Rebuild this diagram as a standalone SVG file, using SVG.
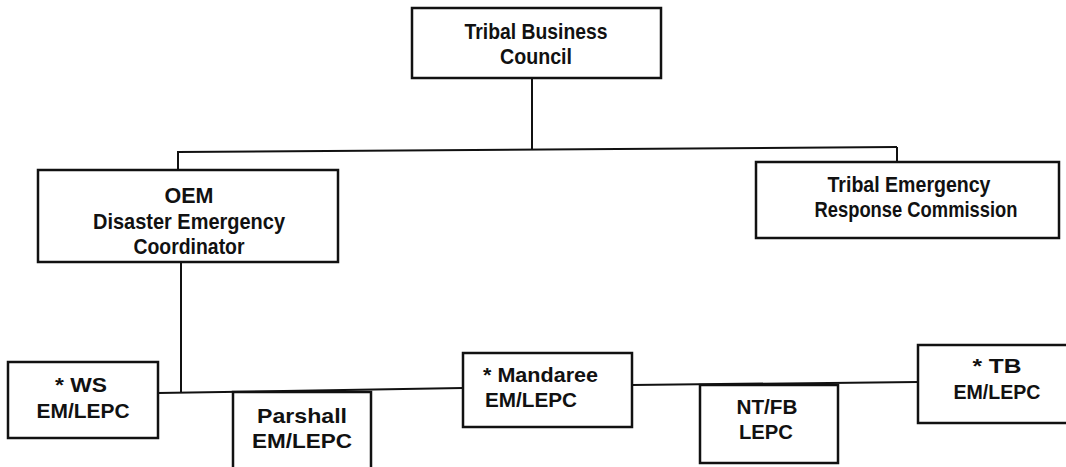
<svg xmlns="http://www.w3.org/2000/svg" width="1066" height="467" viewBox="0 0 1066 467">
<style>
.box{fill:#fff;stroke:#111;stroke-width:2.5}
.ln{fill:none;stroke:#111;stroke-width:2}
.t{font-family:"Liberation Sans",Arial,sans-serif;font-size:22px;font-weight:bold;fill:#111;text-anchor:middle}
.n{font-family:"Liberation Sans",Arial,sans-serif;font-size:21px;font-weight:bold;fill:#111;text-anchor:middle}
.l{text-anchor:start}
</style>
<rect width="1066" height="467" fill="#fff"/>
<g id="connectors">
<line class="ln" x1="532" y1="78" x2="532" y2="150"/>
<line class="ln" x1="178" y1="152" x2="897" y2="147"/>
<line class="ln" x1="178" y1="151" x2="178" y2="170"/>
<line class="ln" x1="897" y1="147" x2="897" y2="162"/>
<line class="ln" x1="181" y1="262" x2="181" y2="393"/>
<line class="ln" x1="158" y1="393" x2="463" y2="388"/>
<line class="ln" x1="632" y1="385" x2="918" y2="382"/>
</g>
<g id="tbc">
<rect class="box" x="412" y="8" width="249" height="70"/>
<text class="t" x="536" y="39" textLength="143" lengthAdjust="spacingAndGlyphs">Tribal Business</text>
<text class="t" x="536" y="64" textLength="72" lengthAdjust="spacingAndGlyphs">Council</text>
</g>
<g id="oem">
<rect class="box" x="38" y="170" width="300" height="92"/>
<text class="t" x="189" y="203" textLength="49" lengthAdjust="spacingAndGlyphs">OEM</text>
<text class="t" x="189" y="229" textLength="192" lengthAdjust="spacingAndGlyphs">Disaster Emergency</text>
<text class="t" x="189" y="254" textLength="111" lengthAdjust="spacingAndGlyphs">Coordinator</text>
</g>
<g id="terc">
<rect class="box" x="756" y="162" width="303" height="76"/>
<text class="t" x="909" y="192" textLength="163" lengthAdjust="spacingAndGlyphs">Tribal Emergency</text>
<text class="t" x="916" y="217" textLength="203" lengthAdjust="spacingAndGlyphs">Response Commission</text>
</g>
<g id="ws">
<rect class="box" x="8" y="362" width="150" height="76"/>
<text class="n" x="81" y="392" textLength="52" lengthAdjust="spacingAndGlyphs">*  WS</text>
<text class="n" x="83" y="418" textLength="93" lengthAdjust="spacingAndGlyphs">EM/LEPC</text>
</g>
<g id="parshall">
<rect class="box" x="233" y="392" width="138" height="80"/>
<text class="n" x="302" y="423" textLength="90" lengthAdjust="spacingAndGlyphs">Parshall</text>
<text class="n" x="302" y="448" textLength="100" lengthAdjust="spacingAndGlyphs">EM/LEPC</text>
</g>
<g id="mandaree">
<rect class="box" x="463" y="353" width="169" height="74"/>
<text class="n l" x="483" y="382" textLength="115" lengthAdjust="spacingAndGlyphs">*  Mandaree</text>
<text class="n l" x="485" y="407" textLength="92" lengthAdjust="spacingAndGlyphs">EM/LEPC</text>
</g>
<g id="ntfb">
<rect class="box" x="700" y="385" width="138" height="78"/>
<text class="n" x="767" y="414" textLength="61" lengthAdjust="spacingAndGlyphs">NT/FB</text>
<text class="n" x="766" y="439" textLength="54" lengthAdjust="spacingAndGlyphs">LEPC</text>
</g>
<g id="tb">
<rect class="box" x="918" y="345" width="160" height="78"/>
<text class="n" x="997" y="373" textLength="49" lengthAdjust="spacingAndGlyphs">*  TB</text>
<text class="n" x="997" y="399" textLength="87" lengthAdjust="spacingAndGlyphs">EM/LEPC</text>
</g>
</svg>
